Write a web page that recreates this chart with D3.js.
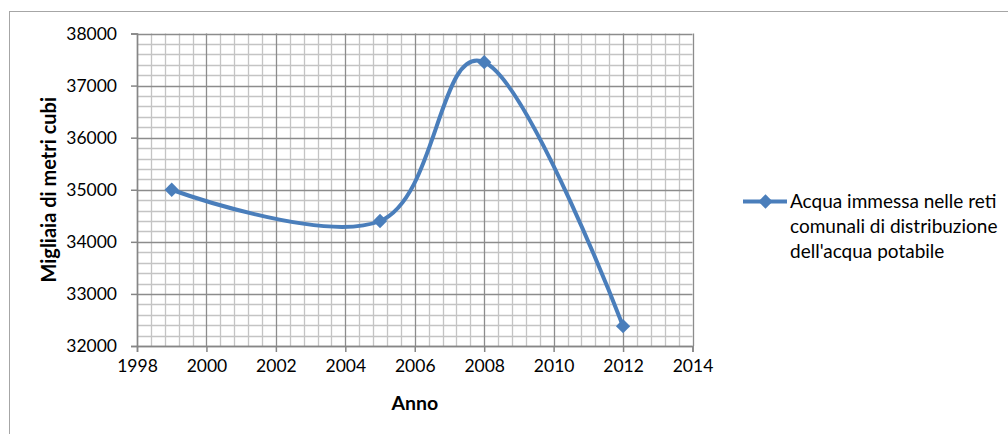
<!DOCTYPE html>
<html><head><meta charset="utf-8">
<script src="https://cdn.jsdelivr.net/npm/d3@7"></script>
<style>body{margin:0;background:#fff}svg{display:block}</style>
</head><body><svg id="c" width="1008" height="434"></svg>
<script>
const years = [1999, 2005, 2008, 2012];
const values = [35000, 34400, 37450, 32380];
const xTicks = [1998, 2000, 2002, 2004, 2006, 2008, 2010, 2012, 2014];
const yTicks = [32000, 33000, 34000, 35000, 36000, 37000, 38000];
const seriesName = ["Acqua immessa nelle reti", "comunali di distribuzione", "dell'acqua potabile"];
const xTitle = "Anno";
const yTitle = "Migliaia di metri cubi";

const svg = d3.select("#c");
const font = "Lato, 'Open Sans', sans-serif";
const L = 137, R = 692.5, T = 33.5, B = 346;
const x = d3.scaleLinear().domain([1998, 2014]).range([L, R]);
const y = d3.scaleLinear().domain([32000, 38000]).range([B, T]);

svg.append("rect").attr("x", 9.5).attr("y", 11.5).attr("width", 1010).attr("height", 440)
  .attr("fill", "#fff").attr("stroke", "#a6a6a6");

// minor grid
const g = svg.append("g");
const minorX = d3.range(1998, 2014.001, 0.4).filter(v => Math.abs(v/2 - Math.round(v/2)) > 0.01);
const minorY = d3.range(32000, 38001, 200).filter(v => v % 1000 !== 0);
g.selectAll(".mx").data(minorX).join("line")
  .attr("x1", d => Math.round(x(d)) + 0.5).attr("x2", d => Math.round(x(d)) + 0.5)
  .attr("y1", T).attr("y2", B).attr("stroke", "#c4c4c4").attr("stroke-width", 1.3);
g.selectAll(".my").data(minorY).join("line")
  .attr("y1", d => Math.round(y(d)) + 0.5).attr("y2", d => Math.round(y(d)) + 0.5)
  .attr("x1", L).attr("x2", R).attr("stroke", "#c4c4c4").attr("stroke-width", 1.3);
// major grid
g.selectAll(".Mx").data(xTicks).join("line")
  .attr("x1", d => Math.round(x(d)) + 0.5).attr("x2", d => Math.round(x(d)) + 0.5)
  .attr("y1", T).attr("y2", B).attr("stroke", "#8c8c8c").attr("stroke-width", 1.3);
g.selectAll(".My").data(yTicks).join("line")
  .attr("y1", d => Math.round(y(d)) + 0.5).attr("y2", d => Math.round(y(d)) + 0.5)
  .attr("x1", L).attr("x2", R).attr("stroke", "#8c8c8c").attr("stroke-width", 1.3);

// axes
const xAxis = svg.append("g").attr("transform", `translate(0,${B})`)
  .call(d3.axisBottom(x).tickValues(xTicks).tickFormat(d3.format("d")).tickSize(6).tickPadding(8));
const yAxis = svg.append("g").attr("transform", `translate(${L},0)`)
  .call(d3.axisLeft(y).tickValues(yTicks).tickFormat(d3.format("d")).tickSize(6).tickPadding(14));
[xAxis, yAxis].forEach(a => {
  a.selectAll("path,line").attr("stroke", "#868686").attr("stroke-width", 1.5);
  a.selectAll("text").attr("font-family", font).attr("font-size", 17.5).attr("fill", "#000");
});

// titles
svg.append("text").attr("x", (L + R) / 2).attr("y", 410).attr("text-anchor", "middle")
  .attr("font-family", font).attr("font-weight", "bold").attr("font-size", 19.5).text(xTitle);
svg.append("text").attr("transform", `translate(56,${(T + B) / 2}) rotate(-90)`)
  .attr("text-anchor", "middle").attr("font-family", font).attr("font-weight", "bold")
  .attr("font-size", 20).text(yTitle);

// series
const color = "#4a7ebb";
const pts = years.map((yr, i) => [x(yr), y(values[i])]);
svg.append("path").datum(pts)
  .attr("d", d3.line().curve(d3.curveCardinal.tension(-0.1)))
  .attr("fill", "none").attr("stroke", color).attr("stroke-width", 4).attr("stroke-linecap", "round");
const diamond = d3.symbol().type(d3.symbolDiamond2).size(130);
svg.selectAll(".pt").data(pts).join("path")
  .attr("transform", d => `translate(${d[0]},${d[1]})`).attr("d", diamond).attr("fill", color);

// legend
const lg = svg.append("g");
lg.append("line").attr("x1", 743).attr("x2", 787).attr("y1", 201.5).attr("y2", 201.5)
  .attr("stroke", color).attr("stroke-width", 4);
lg.append("path").attr("transform", "translate(765.5,201.5)").attr("d", diamond).attr("fill", color);
lg.selectAll("text").data(seriesName).join("text")
  .attr("x", 790).attr("y", (d, i) => 208 + i * 24.8)
  .attr("font-family", font).attr("font-size", 19).attr("fill", "#000").text(d => d);
</script></body></html>
